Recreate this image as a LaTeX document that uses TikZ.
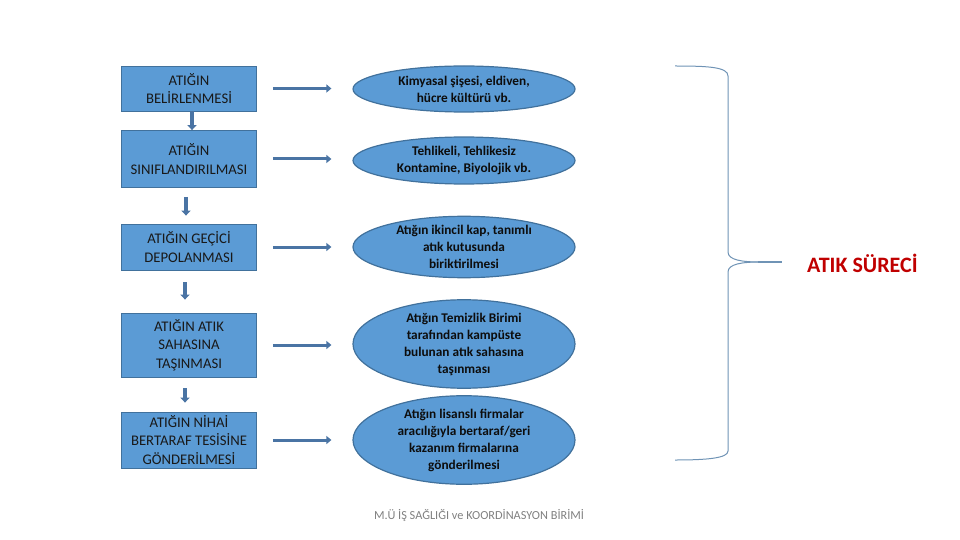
\documentclass[tikz,border=0pt]{standalone}
\usepackage{fontspec}
\setmainfont{Carlito}
\usetikzlibrary{shapes.geometric,arrows.meta}
\definecolor{boxfill}{HTML}{5B9BD5}
\definecolor{boxline}{HTML}{41719C}
\definecolor{arrowc}{HTML}{4A74A4}
\definecolor{bracec}{HTML}{6F93B5}
\definecolor{redtxt}{HTML}{C00000}
\definecolor{foot}{HTML}{808080}
\tikzset{
  stepbox/.style={draw=boxline, line width=0.8pt, fill=boxfill, rectangle, minimum width=135pt, inner sep=0pt, align=center, font=\fontsize{14.7}{18.5}\selectfont, text=black!90},
  ellbox/.style={draw=boxline, line width=1.2pt, fill=boxfill, ellipse, minimum width=222pt, inner sep=0pt, align=center, font=\fontsize{13.3}{17}\selectfont\bfseries, text=black!95},
  harrow/.style={draw=arrowc, line width=3pt, -{Triangle[length=5pt,width=8pt]}, shorten <=16pt, shorten >=21pt},
  varrow/.style={draw=arrowc, line width=3.5pt, -{Triangle[length=5pt,width=9pt]}},
}
\begin{document}
\begin{tikzpicture}[x=1pt,y=-1pt]
\useasboundingbox (0,0) rectangle (960,540);
% left boxes
\node[stepbox, minimum height=45pt] (b1) at (189,88.5) {ATIĞIN\\BELİRLENMESİ};
\node[stepbox, minimum height=57pt] (b2) at (189,159) {ATIĞIN\\SINIFLANDIRILMASI};
\node[stepbox, minimum height=46pt] (b3) at (189,247) {ATIĞIN GEÇİCİ\\DEPOLANMASI};
\node[stepbox, minimum height=64pt] (b4) at (189,345) {ATIĞIN ATIK\\SAHASINA\\TAŞINMASI};
\node[stepbox, minimum height=56pt] (b5) at (189,440) {ATIĞIN NİHAİ\\BERTARAF TESİSİNE\\GÖNDERİLMESİ};
% ellipses
\node[ellbox, minimum height=46pt] (e1) at (464,89) {Kimyasal şişesi, eldiven,\\hücre kültürü vb.};
\node[ellbox, minimum height=47pt] (e2) at (464,160.5) {Tehlikeli, Tehlikesiz\\Kontamine, Biyolojik vb.};
\node[ellbox, minimum height=60pt] (e3) at (464,247) {Atığın ikincil kap, tanımlı\\atık kutusunda\\biriktirilmesi};
\node[ellbox, minimum height=76pt] (e4) at (464,344) {Atığın Temizlik Birimi\\tarafından kampüste\\bulunan atık sahasına\\taşınması};
\node[ellbox, minimum height=77pt] (e5) at (464,440) {Atığın lisanslı firmalar\\aracılığıyla bertaraf/geri\\kazanım firmalarına\\gönderilmesi};
% horizontal arrows
\draw[harrow] (b1.east) -- (b1.east -| e1.west);
\draw[harrow] (b2.east) -- (b2.east -| e2.west);
\draw[harrow] (b3.east) -- (b3.east -| e3.west);
\draw[harrow] (b4.east) -- (b4.east -| e4.west);
\draw[harrow] (b5.east) -- (b5.east -| e5.west);
% vertical arrows
\draw[varrow] ([xshift=3pt]b1.south) -- ([xshift=3pt]b2.north);
\draw[varrow, shorten <=9pt, shorten >=8pt] ([xshift=-3pt]b2.south) -- ([xshift=-3pt]b3.north);
\draw[varrow, shorten <=12pt, shorten >=13pt] ([xshift=-4pt]b3.south) -- ([xshift=-4pt]b4.north);
\draw[varrow, shorten <=11pt, shorten >=9pt] ([xshift=-4pt]b4.south) -- ([xshift=-4pt]b5.north);
% brace
\coordinate (btip) at (782,262);
\draw[bracec, line width=1pt] (675,66) .. controls (708,66) and (728,67) .. (728,76) -- (728,252) .. controls (728,260) and (742,262) .. (760,262);
\draw[bracec, line width=1pt] (760,262) .. controls (742,262) and (728,264) .. (728,272) -- (728,451) .. controls (728,458) and (708,460) .. (675,460);
\draw[bracec, line width=1.8pt] (758,262) -- (btip);
\node[anchor=west, text=redtxt, font=\fontsize{22}{25}\selectfont\bfseries, inner sep=0pt] (title) at (807,263) {ATIK SÜRECİ};
% footer
\node[text=foot, font=\fontsize{12.3}{14}\selectfont, inner sep=0pt] (footer) at (479,516) {M.Ü İŞ SAĞLIĞI ve KOORDİNASYON BİRİMİ};
\end{tikzpicture}
\end{document}
